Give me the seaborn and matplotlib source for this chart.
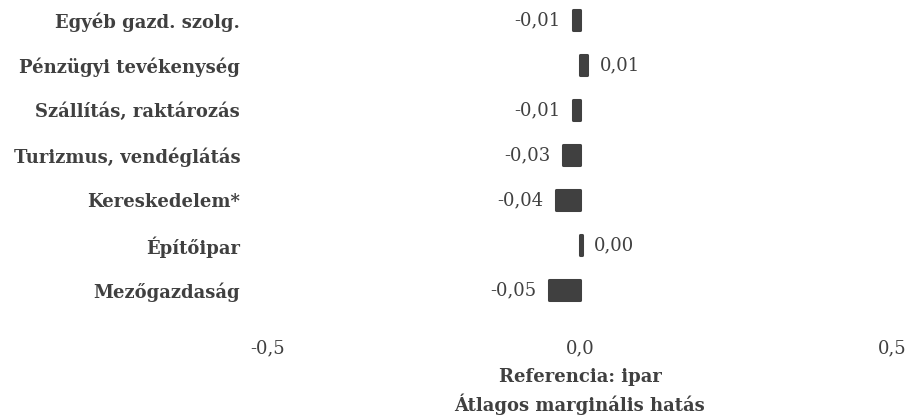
import matplotlib
matplotlib.use("Agg")
import matplotlib.pyplot as plt
import seaborn as sns
import pandas as pd

categories = ["Egyéb gazd. szolg.", "Pénzügyi tevékenység", "Szállítás, raktározás",
              "Turizmus, vendéglátás", "Kereskedelem*", "Építőipar", "Mezőgazdaság"]
values = [-0.012, 0.012, -0.011, -0.028, -0.038, 0.003, -0.050]
xticks = [-0.5, 0.0, 0.5]
xlabel_lines = ["Referencia: ipar", "Átlagos marginális hatás"]

sns.set_theme(style="white")
plt.rcParams["font.family"] = ["DejaVu Serif"]
txt = "#404040"
bar_col = "#404040"
fs = 13

df = pd.DataFrame({"cat": categories, "val": values})

fig = plt.figure(figsize=(9.14, 4.18), dpi=100)
ax = fig.add_axes([268 / 914, 1 - 312.5 / 418, (892 - 268) / 914, 315 / 418])

sns.barplot(data=df, x="val", y="cat", orient="h", color=bar_col, saturation=1,
            width=0.44, ax=ax)
for p in ax.patches:
    p.set_edgecolor(bar_col)
    p.set_linewidth(2.2)
    p.set_joinstyle("round")

ax.set_xlim(-0.5, 0.5)
ax.set_ylim(6.5, -0.5)
ax.set_xticks(xticks)
ax.set_xticklabels([f"{t:.1f}".replace(".", ",") for t in xticks], fontsize=fs, color=txt)
ax.tick_params(axis="x", length=0, pad=19)
ax.tick_params(axis="y", length=0, pad=20)
for lab in ax.get_yticklabels():
    lab.set_fontsize(fs)
    lab.set_fontweight("bold")
    lab.set_color(txt)
ax.set_ylabel("")
ax.set_xlabel("\n".join(xlabel_lines), fontsize=fs, fontweight="bold", color=txt,
              labelpad=8, linespacing=1.45)
for s in ax.spines.values():
    s.set_visible(False)

for i, v in enumerate(values):
    label = f"{v:.2f}".replace(".", ",")
    if v < 0:
        ax.annotate(label, (v, i), xytext=(-9, 0), textcoords="offset points",
                    ha="right", va="center", fontsize=fs, color=txt)
    else:
        ax.annotate(label, (v, i), xytext=(9, 0), textcoords="offset points",
                    ha="left", va="center", fontsize=fs, color=txt)

fig.savefig("out.png", dpi=100)
